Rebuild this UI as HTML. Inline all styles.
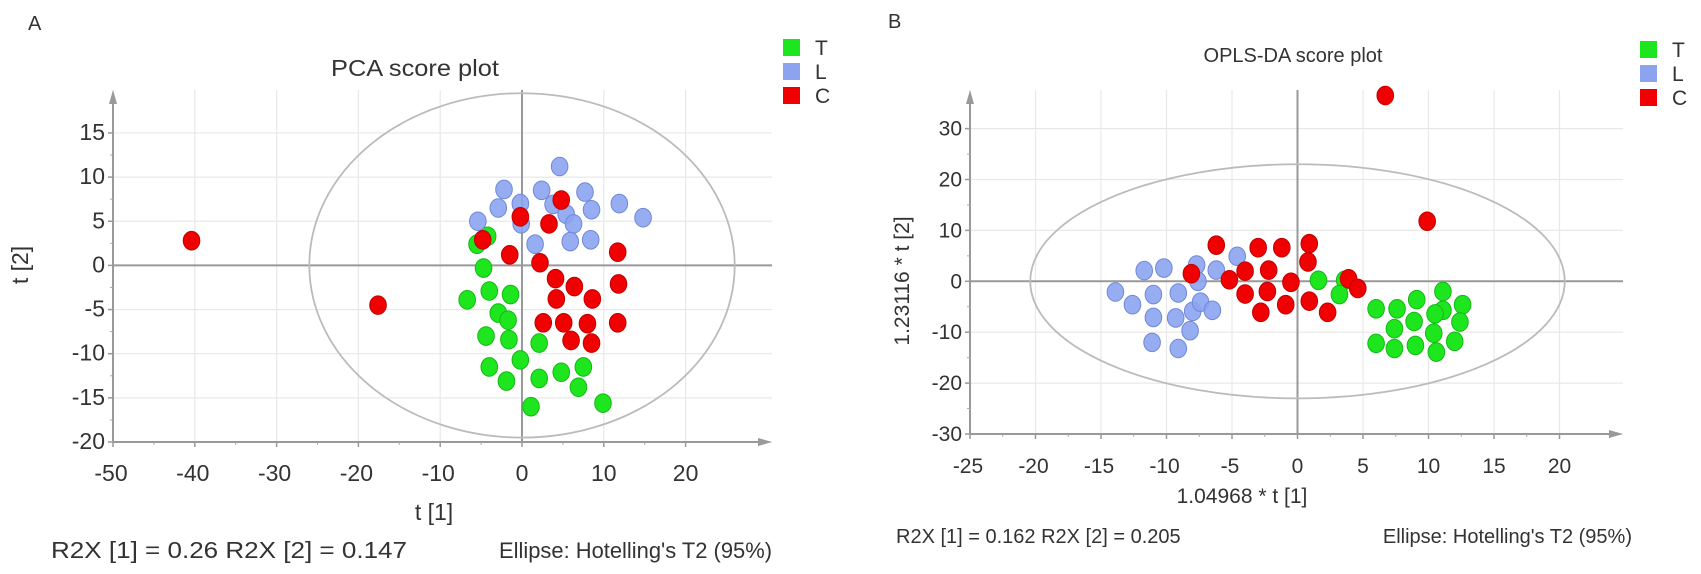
<!DOCTYPE html>
<html><head><meta charset="utf-8"><style>
html,body{margin:0;padding:0;background:#fff;}
svg{display:block;font-family:"Liberation Sans",sans-serif;}
</style></head><body>
<svg id="s" width="1701" height="574" viewBox="0 0 1701 574"></svg>
<script>
// PCA data
const pcaTx=[-4.2,-5.5,-4.7,-4.0,-1.4,-6.7,-2.9,-1.7,-4.4,-1.6,2.1,-0.2,-4.0,7.5,4.8,-1.9,2.1,6.9,9.9,1.1];
const pcaTy=[3.3,2.4,-0.3,-2.9,-3.3,-3.9,-5.4,-6.2,-8.0,-8.4,-8.8,-10.7,-11.5,-11.5,-12.1,-13.1,-12.8,-13.8,-15.6,-16.0];
const pcaLx=[4.6,-2.2,2.4,7.7,-0.2,11.9,-2.9,3.8,8.5,14.8,-5.4,5.4,6.3,-0.1,1.6,5.9,8.4];
const pcaLy=[11.2,8.6,8.5,8.3,7.0,7.0,6.5,6.9,6.3,5.4,5.0,5.8,4.7,4.7,2.4,2.7,2.9];
const pcaCx=[-40.4,-17.6,-4.8,-0.2,4.8,3.3,-1.5,2.2,4.1,6.4,4.2,8.6,11.7,11.8,2.6,5.1,8.0,11.7,6.0,8.5];
const pcaCy=[2.8,-4.5,2.9,5.5,7.4,4.7,1.2,0.3,-1.5,-2.4,-3.8,-3.8,1.5,-2.1,-6.5,-6.5,-6.6,-6.5,-8.5,-8.8];
const pcaXTicks=[-50,-40,-30,-20,-10,0,10,20];
const pcaYTicks=[-20,-15,-10,-5,0,5,10,15];
// OPLS-DA data
const oplTx=[1.6,3.6,3.2,6.0,7.6,9.1,8.9,7.4,11.1,11.1,10.5,12.6,12.4,10.4,6.0,7.4,9.0,10.6,12.0];
const oplTy=[0.2,0.2,-2.6,-5.4,-5.4,-3.6,-7.9,-9.3,-2.0,-5.7,-6.4,-4.6,-8.0,-10.2,-12.2,-13.2,-12.6,-13.9,-11.8];
const oplLx=[-13.9,-12.6,-11.7,-10.2,-11.0,-11.0,-11.1,-9.1,-9.3,-9.1,-8.2,-8.0,-7.7,-7.6,-7.4,-6.5,-6.2,-4.6];
const oplLy=[-2.1,-4.6,2.1,2.6,-2.6,-7.1,-12.0,-2.3,-7.2,-13.2,-9.7,-5.9,3.2,0.0,-4.1,-5.7,2.2,4.9];
const oplCx=[6.7,9.9,-6.2,-3.0,-1.2,0.9,0.8,-8.1,-4.0,-2.2,-5.2,-0.5,-4.0,-2.3,-0.9,0.9,-2.8,2.3,3.9,4.6];
const oplCy=[36.5,11.8,7.1,6.6,6.6,7.4,3.8,1.5,2.0,2.2,0.3,-0.2,-2.5,-2.0,-4.6,-3.9,-6.1,-6.1,0.5,-1.4];
const oplXTicks=[-25,-20,-15,-10,-5,0,5,10,15,20];
const oplYTicks=[-30,-20,-10,0,10,20,30];

const NS="http://www.w3.org/2000/svg";
const svg=document.getElementById('s');
function mk(tag,attrs,parent,txt){const e=document.createElementNS(NS,tag);for(const k in attrs)e.setAttribute(k,attrs[k]);if(txt!==undefined)e.textContent=txt;(parent||svg).appendChild(e);return e;}
const COL={T:['#1ee61e','#14b814'],L:['#8ca4f0','#7088d8'],C:['#f00000','#c00000']};

function panel(cfg){
  const g=mk('g',{});
  
  
  const sx=v=>cfg.x0+(v-cfg.xmin)*cfg.kx;
  const sy=v=>cfg.y0-(v-cfg.ymin)*cfg.ky;
  const top=cfg.top, right=cfg.right;
  cfg.xt.forEach(t=>{const l=mk('line',{x1:sx(t),x2:sx(t),y1:top,y2:cfg.y0,stroke:'#e8e8e8','stroke-width':1.2},g);});
  cfg.yt.forEach(t=>{const l=mk('line',{x1:cfg.x0,x2:right,y1:sy(t),y2:sy(t),stroke:'#e8e8e8','stroke-width':1.2},g);});
  let z=mk('line',{x1:sx(0),x2:sx(0),y1:top,y2:cfg.y0,stroke:'#999','stroke-width':2},g);
  z=mk('line',{x1:cfg.x0,x2:right,y1:sy(0),y2:sy(0),stroke:'#999','stroke-width':2},g);
  let a=mk('line',{x1:cfg.x0,x2:right-8,y1:cfg.y0,y2:cfg.y0,stroke:'#999','stroke-width':2},g);
  a=mk('polygon',{points:`${right},${cfg.y0} ${right-14},${cfg.y0-4} ${right-14},${cfg.y0+4}`,fill:'#999'},g);
  a=mk('line',{x1:cfg.x0,x2:cfg.x0,y1:top+8,y2:cfg.y0,stroke:'#999','stroke-width':2},g);
  a=mk('polygon',{points:`${cfg.x0},${top} ${cfg.x0-4},${top+14} ${cfg.x0+4},${top+14}`,fill:'#999'},g);
  cfg.xt.forEach((t,i)=>{
    mk('line',{x1:sx(t),x2:sx(t),y1:cfg.y0,y2:cfg.y0+5,stroke:'#999','stroke-width':1.5},g);
    if(i<cfg.xt.length-1){const m=(t+cfg.xt[i+1])/2;mk('line',{x1:sx(m),x2:sx(m),y1:cfg.y0,y2:cfg.y0+3,stroke:'#aaa','stroke-width':1},g);}
    const tx=mk('text',{x:sx(t)-(t<0?2:0),y:cfg.y0+39,'text-anchor':'middle','font-size':cfg.fs,fill:'#333'},g,String(t));
    
  });
  cfg.yt.forEach((t,i)=>{
    mk('line',{x1:cfg.x0-5,x2:cfg.x0,y1:sy(t),y2:sy(t),stroke:'#999','stroke-width':1.5},g);
    if(i<cfg.yt.length-1){const m=(t+cfg.yt[i+1])/2;mk('line',{x1:cfg.x0-3,x2:cfg.x0,y1:sy(m),y2:sy(m),stroke:'#aaa','stroke-width':1},g);}
    const ty=mk('text',{x:cfg.x0-8,y:sy(t)+7,'text-anchor':'end','font-size':cfg.fs,fill:'#333'},g,String(t));
    
  });
  const el=mk('ellipse',{cx:sx(0),cy:sy(0),rx:cfg.erx*cfg.kx,ry:cfg.ery*cfg.ky,fill:'none',stroke:'#bbb','stroke-width':1.8},g);
  
  const series=[['T',cfg.T[0],cfg.T[1]],['L',cfg.L[0],cfg.L[1]],['C',cfg.C[0],cfg.C[1]]];
  series.forEach(([k,xs,ys])=>{
    xs.forEach((v,i)=>{
      const p=mk('ellipse',{cx:sx(v),cy:sy(ys[i]),rx:8.3,ry:9.3,fill:COL[k][0],stroke:COL[k][1],'stroke-width':1,'fill-opacity':k==='L'?0.9:1},g);
      
      
    });
  });
  return g;
}

panel({name:'pca-plot',x0:113,y0:442,xmin:-50,ymin:-20,kx:8.18,ky:8.83,top:90,right:772,fs:23,
  xt:pcaXTicks,yt:pcaYTicks,erx:26,ery:19.5,T:[pcaTx,pcaTy],L:[pcaLx,pcaLy],C:[pcaCx,pcaCy]});
panel({name:'opls-da-plot',x0:970,y0:434,xmin:-25,ymin:-30,kx:13.1,ky:5.09,top:90,right:1623,fs:21,
  xt:oplXTicks,yt:oplYTicks,erx:20.4,ery:23,T:[oplTx,oplTy],L:[oplLx,oplLy],C:[oplCx,oplCy]});

function txt(x,y,s,size,name,extra){const t=mk('text',Object.assign({x:x,y:y,'font-size':size,fill:'#333'},extra||{}),svg,s);return t;}
txt(28,30,'A',20,'panel-label-a');
txt(888,28,'B',20,'panel-label-b');
txt(331,76,'PCA score plot',23,'pca-title',{textLength:168,lengthAdjust:'spacingAndGlyphs'});
txt(1293,62,'OPLS-DA score plot',20,'opls-title',{'text-anchor':'middle'});
txt(434,520,'t [1]',23,'pca-x-axis-title',{'text-anchor':'middle'});
txt(0,0,'t [2]',23,'pca-y-axis-title',{'text-anchor':'middle',transform:'translate(28,265) rotate(-90)'});
txt(1242,503,'1.04968 * t [1]',21,'opls-x-axis-title',{'text-anchor':'middle'});
txt(0,0,'1.23116 * t [2]',21,'opls-y-axis-title',{'text-anchor':'middle',transform:'translate(909,281) rotate(-90)'});
txt(51,558,'R2X [1] = 0.26 R2X [2] = 0.147',23,'pca-r2x-note',{textLength:356,lengthAdjust:'spacingAndGlyphs'});
txt(499,558,"Ellipse: Hotelling's T2 (95%)",22,'pca-ellipse-note',{textLength:273,lengthAdjust:'spacingAndGlyphs'});
txt(896,543,'R2X [1] = 0.162 R2X [2] = 0.205',20,'opls-r2x-note');
txt(1632,543,"Ellipse: Hotelling's T2 (95%)",20,'opls-ellipse-note',{'text-anchor':'end'});

function legend(x,y,name){
  const g=mk('g',{});
  [['T','T'],['L','L'],['C','C']].forEach(([k,l],i)=>{
    const r=mk('rect',{x:x,y:y+i*24,width:17,height:17,fill:COL[k][0]},g);
    
    const t=mk('text',{x:x+32,y:y+i*24+16,'font-size':21,fill:'#333'},g,l);
    
  });
}
legend(783,39,'pca-legend');
legend(1640,41,'opls-legend');
</script>
</body></html>
